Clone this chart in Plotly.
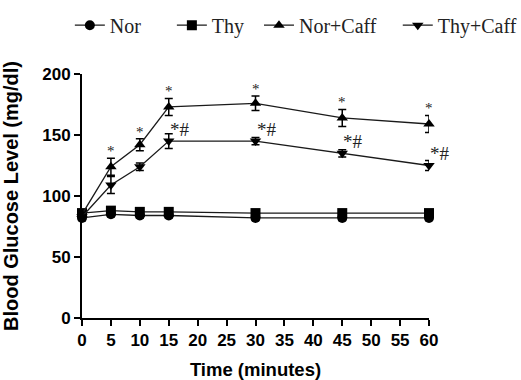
import plotly.graph_objects as go

time = [0, 5, 10, 15, 30, 45, 60]
nor = [82, 85, 84, 84, 82, 82, 82]
nor_err = [2, 2, 2, 2, 2, 2, 2]
thy = [86, 88, 87, 87, 86, 86, 86]
thy_err = [2, 2, 2, 2, 2, 2, 2]
nor_caff = [85, 124, 142, 173, 176, 164, 159]
nor_caff_err = [3, 7, 5, 7, 6, 7, 7]
thy_caff = [83, 109, 124, 145, 145, 135, 125]
thy_caff_err = [3, 7, 3, 6, 3, 3, 4]

series = [
    ("Nor", nor, nor_err, "circle", "legend", -0.035),
    ("Thy", thy, thy_err, "square", "legend2", 0.259),
    ("Nor+Caff", nor_caff, nor_caff_err, "triangle-up", "legend3", 0.51),
    ("Thy+Caff", thy_caff, thy_caff_err, "triangle-down", "legend4", 0.91),
]

fig = go.Figure()
legend_layouts = {}
for name, vals, errs, sym, leg, lx in series:
    fig.add_trace(go.Scatter(
        x=time, y=vals, name=name, legend=leg, mode="lines+markers",
        line=dict(color="#1a1a1a", width=1.3),
        marker=dict(symbol=sym, size=10, color="black"),
        error_y=dict(type="data", array=errs, color="black", thickness=1.5, width=4),
        cliponaxis=False,
    ))
    legend_layouts[leg] = dict(
        orientation="h", x=lx, y=1.2, xanchor="left", yanchor="middle",
        font=dict(family="Liberation Serif", size=20, color="#222"),
        itemwidth=30, bgcolor="rgba(0,0,0,0)",
    )

# significance annotations
for t, v, e in zip(time[1:], nor_caff[1:], nor_caff_err[1:]):
    fig.add_annotation(x=t, y=v + e, text="*", showarrow=False, yshift=7,
                       font=dict(family="Liberation Serif", size=15, color="#222"))
for t, v in zip(time[3:], thy_caff[3:]):
    fig.add_annotation(x=t, y=v, text="*#", showarrow=False, xanchor="left",
                       xshift=-1, yshift=12,
                       font=dict(family="Liberation Serif", size=19, color="#222"))

fig.update_layout(
    width=521, height=380,
    margin=dict(l=82, r=92, t=74, b=62, autoexpand=False),
    plot_bgcolor="white", paper_bgcolor="white",
    showlegend=True,
    **legend_layouts,
    xaxis=dict(
        range=[0, 60], tickvals=list(range(0, 61, 5)),
        showline=True, linecolor="black", linewidth=2,
        ticks="outside", ticklen=6, tickwidth=2, tickcolor="black",
        showgrid=False, zeroline=False, automargin=False,
        tickfont=dict(family="Liberation Sans", size=17, color="black", weight="bold"),
        title=dict(text="<b>Time (minutes)</b>", standoff=15,
                   font=dict(family="Liberation Sans", size=18.5, color="black")),
    ),
    yaxis=dict(
        range=[0, 200], tickvals=[0, 50, 100, 150, 200],
        showline=True, linecolor="black", linewidth=2,
        ticks="outside", ticklen=6, tickwidth=2, tickcolor="black",
        showgrid=False, zeroline=False, automargin=False,
        tickfont=dict(family="Liberation Sans", size=17, color="black", weight="bold"),
        title=dict(text="<b>Blood Glucose Level (mg/dl)</b>", standoff=22,
                   font=dict(family="Liberation Sans", size=20, color="black")),
    ),
)

fig.write_html("out.html", config={"displayModeBar": False},
               post_script="document.body.style.margin='0px';")
